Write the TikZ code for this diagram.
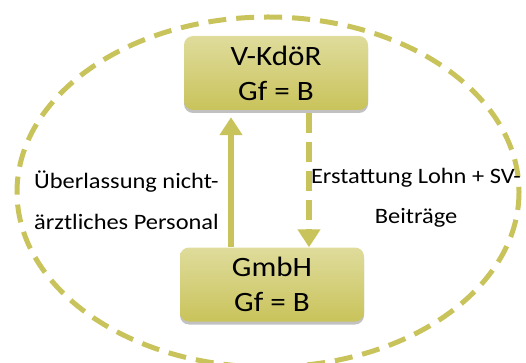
\documentclass[tikz,border=0pt]{standalone}
\usepackage{fontspec}
\setmainfont{Carlito}[FakeStretch=1.11]
\usetikzlibrary{arrows.meta,shadows}

\definecolor{olive}{HTML}{C9C35B}
\definecolor{olivelight}{HTML}{DFDC9C}

\tikzset{
  entity/.style={rounded corners=9pt, minimum width=184pt, minimum height=74pt,
    top color=olivelight, bottom color=olive, draw=none, align=center,
    font=\fontsize{28}{35}\selectfont,
    drop shadow={shadow xshift=0pt, shadow yshift=-3pt, fill=black!30, opacity=0.8}},
  flowlabel/.style={font=\fontsize{22}{40}\selectfont, inner sep=0pt},
  flow/.style={draw=olive, line width=6pt, -{Triangle[width=22pt,length=18pt]}},
  boundary/.style={draw=olive, line width=5pt, dash pattern=on 18pt off 10pt}
}

\begin{document}
\begin{tikzpicture}[x=1pt, y=-1pt]
  \useasboundingbox (0,0) rectangle (526,363);

  % organisational boundary
  \draw[boundary] (268,192) ellipse [x radius=251, y radius=175];

  % the two bodies
  \node[entity] (kdoer) at (276,73) {V-KdöR\\Gf = B};
  \node[entity] (gmbh) at (272,284.5) {GmbH\\Gf = B};

  % x positions of the two connectors
  \coordinate (upx) at (231,0);
  \coordinate (downx) at (309,0);

  % staff placement (up) and reimbursement (down)
  \draw[flow] (gmbh.north -| upx) -- ([yshift=-7pt]kdoer.south -| upx);
  \draw[flow, dash pattern=on 20pt off 9pt] ([yshift=-3pt]kdoer.south -| downx) -- (gmbh.north -| downx);

  % connector labels (base anchor sits on the last line)
  \node[flowlabel, anchor=base west, align=left] (lblup) at (34,229)
    {Überlassung nicht-\\ärztliches Personal};
  \node[flowlabel, anchor=base, align=center] (lbldown) at (416,223)
    {Erstattung Lohn + SV-\\Beiträge};
\end{tikzpicture}
\end{document}
